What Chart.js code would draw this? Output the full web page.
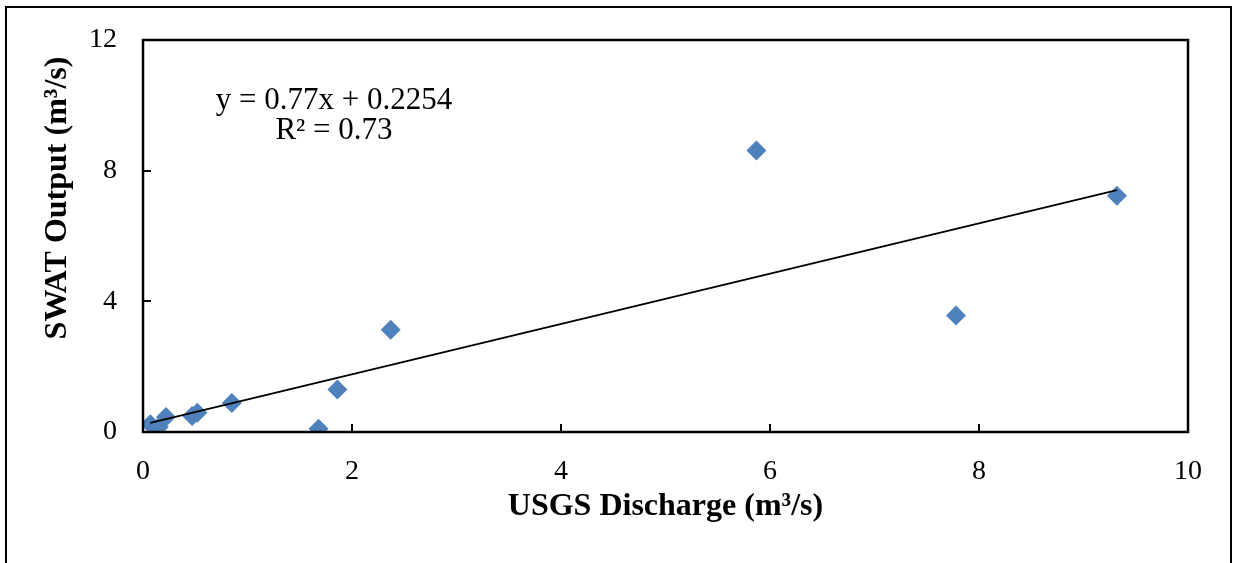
<!DOCTYPE html>
<html>
<head>
<meta charset="utf-8">
<script src="https://cdn.jsdelivr.net/npm/chart.js@4/dist/chart.umd.min.js"></script>
<style>
  html, body { margin: 0; padding: 0; background: #fff; }
  #wrap { width: 1233px; height: 563px; position: relative; }
</style>
</head>
<body>
<div id="wrap"><canvas id="chart"></canvas></div>
<script>
// observed vs simulated flow
const usgsDischarge = [0.07, 0.15, 0.22, 0.47, 0.52, 0.85, 1.68, 1.86, 2.37, 5.87, 7.78, 9.32];
const swatOutput    = [0.24, 0.15, 0.46, 0.49, 0.59, 0.89, 0.10, 1.30, 3.13, 8.62, 3.57, 7.23];

// linear fit shown on the chart
const fitSlope = 0.77;
const fitIntercept = 0.2254;
const fitR2 = 0.73;

const xTicks = [0, 2, 4, 6, 8, 10];
const yTicks = [0, 4, 8, 12];

const points = usgsDischarge.map((x, i) => ({ x: x, y: swatOutput[i] }));
const xMin = Math.min(...usgsDischarge);
const xMax = Math.max(...usgsDischarge);
const fitLine = [xMin, xMax].map(x => ({ x: x, y: fitSlope * x + fitIntercept }));

const serif = 'Liberation Serif, Times New Roman, serif';

// black frame around the plot, outer box, y title and the fit equation
const decorations = {
  id: 'decorations',
  beforeDraw(chart) {
    const ctx = chart.ctx;
    ctx.save();
    ctx.fillStyle = '#fff';
    ctx.fillRect(0, 0, chart.width, chart.height);
    ctx.strokeStyle = '#000';
    ctx.lineWidth = 2;
    ctx.beginPath();
    ctx.moveTo(6, 600);
    ctx.lineTo(6, 7);
    ctx.lineTo(1231, 7);
    ctx.lineTo(1231, 600);
    ctx.stroke();
    ctx.restore();
  },
  afterDraw(chart) {
    const ctx = chart.ctx;
    const a = chart.chartArea;
    ctx.save();
    ctx.strokeStyle = '#000';
    ctx.lineWidth = 2.5;
    ctx.strokeRect(a.left, a.top, a.right - a.left, a.bottom - a.top);
    ctx.fillStyle = '#000';
    ctx.textAlign = 'center';
    ctx.textBaseline = 'middle';

    ctx.font = '31px ' + serif;
    const cx = a.left + 191;
    ctx.fillText('y = ' + fitSlope + 'x + ' + fitIntercept, cx, a.top + 61);
    ctx.fillText('R\u00B2 = ' + fitR2, cx, a.top + 91);

    ctx.font = 'bold 32px ' + serif;
    ctx.translate(58, 198);
    ctx.rotate(-Math.PI / 2);
    ctx.fillText('SWAT Output (m\u00B3/s)', 0, 0);
    ctx.restore();
  }
};

new Chart(document.getElementById('chart'), {
  type: 'scatter',
  data: {
    datasets: [
      {
        label: 'SWAT',
        data: points,
        pointStyle: 'rectRot',
        pointRadius: 10,
        pointHoverRadius: 10,
        backgroundColor: '#4F81BD',
        borderColor: '#4F81BD',
        borderWidth: 0,
        order: 2
      },
      {
        label: 'Linear',
        type: 'line',
        data: fitLine,
        borderColor: '#000',
        borderWidth: 1.8,
        pointRadius: 0,
        fill: false,
        order: 1
      }
    ]
  },
  options: {
    responsive: true,
    maintainAspectRatio: false,
    animation: false,
    layout: { padding: { left: 0, top: 40, right: 45, bottom: 0 } },
    plugins: {
      legend: { display: false },
      tooltip: { enabled: false }
    },
    scales: {
      x: {
        type: 'linear',
        min: 0,
        max: 10,
        afterBuildTicks: s => { s.ticks = xTicks.map(v => ({ value: v })); },
        afterFit: s => { s.height = 131; s.paddingLeft = 0; s.paddingRight = 0; },
        border: { display: false },
        grid: {
          drawOnChartArea: false,
          drawTicks: true,
          tickLength: -8,
          color: '#000',
          lineWidth: 2
        },
        ticks: {
          color: '#000',
          padding: 31,
          font: { family: serif, size: 28 }
        },
        title: {
          display: true,
          text: 'USGS Discharge (m\u00B3/s)',
          color: '#000',
          font: { family: serif, size: 32, weight: 'bold' },
          padding: { top: 0, bottom: 37 }
        }
      },
      y: {
        type: 'linear',
        min: 0,
        max: 12,
        afterBuildTicks: s => { s.ticks = yTicks.map(v => ({ value: v })); },
        afterFit: s => { s.width = 143; s.paddingTop = 0; s.paddingBottom = 0; },
        border: { display: false },
        grid: {
          drawOnChartArea: false,
          drawTicks: true,
          tickLength: -8,
          color: '#000',
          lineWidth: 2
        },
        ticks: {
          color: '#000',
          padding: 34,
          font: { family: serif, size: 28 }
        }
      }
    }
  },
  plugins: [decorations]
});
</script>
</body>
</html>
